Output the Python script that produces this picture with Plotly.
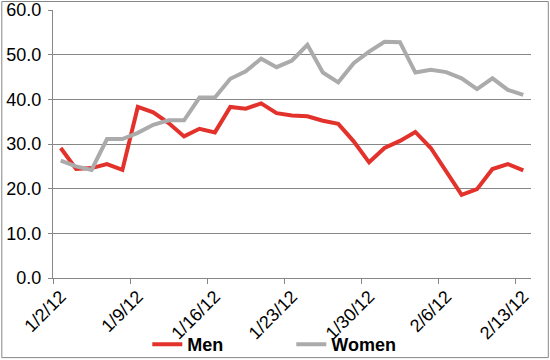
import plotly.graph_objects as go

dates = ["1/2/12", "1/3/12", "1/4/12", "1/5/12", "1/6/12",
         "1/9/12", "1/10/12", "1/11/12", "1/12/12", "1/13/12",
         "1/16/12", "1/17/12", "1/18/12", "1/19/12", "1/20/12",
         "1/23/12", "1/24/12", "1/25/12", "1/26/12", "1/27/12",
         "1/30/12", "1/31/12", "2/1/12", "2/2/12", "2/3/12",
         "2/6/12", "2/7/12", "2/8/12", "2/9/12", "2/10/12",
         "2/13/12"]

men = [29.1, 24.4, 24.6, 25.5, 24.2,
       38.3, 37.1, 34.7, 31.7, 33.4,
       32.6, 38.3, 37.9, 39.1, 36.9,
       36.4, 36.2, 35.2, 34.5, 30.6,
       25.9, 29.1, 30.7, 32.7, 29.1,
       23.9, 18.6, 19.9, 24.4, 25.5,
       24.1]

women = [26.3, 25.0, 24.2, 31.1, 31.1,
         32.5, 34.3, 35.3, 35.3, 40.4,
         40.4, 44.6, 46.3, 49.1, 47.2,
         48.7, 52.2, 46.0, 43.8, 48.1,
         50.7, 52.9, 52.8, 46.0, 46.6,
         46.1, 44.7, 42.3, 44.7, 42.1,
         41.0]

tick_labels = ["1/2/12", "1/9/12", "1/16/12", "1/23/12", "1/30/12", "2/6/12", "2/13/12"]
tick_bounds = [-0.5, 4.5, 9.5, 14.5, 19.5, 24.5, 29.5]
y_ticks = [0, 10, 20, 30, 40, 50, 60]

RED = "#E2322B"
GRAY = "#ABABAB"
LINE = "#878787"
FONT = "Arial, Liberation Sans, sans-serif"

fig = go.Figure()
fig.add_trace(go.Scatter(x=dates, y=men, name="Men", mode="lines",
                         line=dict(color=RED, width=4)))
fig.add_trace(go.Scatter(x=dates, y=women, name="Women", mode="lines",
                         line=dict(color=GRAY, width=4)))
# helper trace to make tick-boundary axis exist
fig.add_trace(go.Scatter(x=tick_bounds, y=[None] * len(tick_bounds), xaxis="x2",
                         showlegend=False, hoverinfo="skip"))

W, H = 550, 360
ml, mr, mt, mb = 52.7, 19.3, 10, 81.7
pw = W - ml - mr
ph = H - mt - mb

fig.update_layout(
    width=W, height=H,
    margin=dict(l=ml, r=mr, t=mt, b=mb, autoexpand=False),
    paper_bgcolor="white", plot_bgcolor="white",
    font=dict(family=FONT, color="black", size=18),
    xaxis=dict(type="category", categoryorder="array", categoryarray=dates,
               range=[-0.5, 30.5], tickmode="array", tickvals=tick_labels,
               ticktext=tick_labels, tickangle=-45, ticks="", showgrid=False,
               showline=True, linecolor=LINE, linewidth=1,
               tickfont=dict(size=18, family=FONT), zeroline=False),
    xaxis2=dict(overlaying="x", anchor="y", side="bottom", range=[-0.5, 30.5],
                tickmode="array", tickvals=tick_bounds, showticklabels=False,
                ticks="outside", ticklen=5, tickcolor=LINE, tickwidth=1,
                showgrid=False, showline=False, zeroline=False),
    yaxis=dict(range=[0, 60], tickmode="array", tickvals=y_ticks,
               tickformat=".1f", showgrid=True, gridcolor=LINE, gridwidth=1,
               showline=True, linecolor=LINE, linewidth=1, ticks="outside",
               ticklen=4, tickcolor=LINE, zeroline=False,
               tickfont=dict(size=18, family=FONT), ticklabelstandoff=3),
    legend=dict(orientation="h", x=(147 - ml) / pw, xanchor="left",
                y=(mt + ph - 345) / ph, yanchor="middle",
                entrywidth=99, entrywidthmode="pixels",
                font=dict(size=18, family=FONT, color="black", weight="bold"),
                bgcolor="rgba(0,0,0,0)", itemwidth=30, tracegroupgap=0),
    showlegend=True,
)

# outer chart border
fig.add_shape(type="rect", xref="paper", yref="paper",
              x0=(1.5 - ml) / pw, x1=(548 - ml) / pw,
              y0=(mt + ph - 358) / ph, y1=(mt + ph - 1.5) / ph,
              line=dict(color=LINE, width=1), fillcolor="rgba(0,0,0,0)", layer="below")

fig.write_html("out.html", config={"displayModeBar": False},
               post_script="document.body.style.margin='0';document.body.style.overflow='hidden';")
